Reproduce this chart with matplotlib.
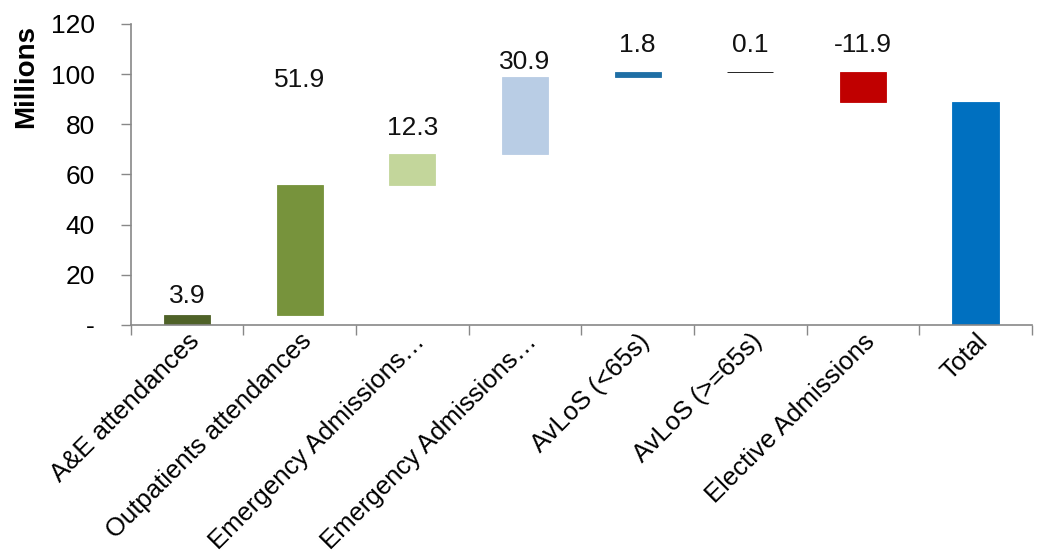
import matplotlib.pyplot as plt
import numpy as np

plt.rcParams['font.family'] = ['Liberation Sans', 'DejaVu Sans']

# Waterfall components (millions)
categories = ["A&E attendances", "Outpatients attendances", "Emergency Admissions\u2026",
              "Emergency Admissions\u2026", "AvLoS (<65s)", "AvLoS (>=65s)",
              "Elective Admissions", "Total"]
changes = [3.9, 51.9, 12.3, 30.9, 1.8, 0.1, -11.9]
bar_colors = ["#4f6228", "#77933c", "#c3d69b", "#b9cde5", "#1f6fa5", "#000000",
              "#c00000", "#0070c0"]
# heights where the value labels sit
label_y = [11.6, 97.7, 78.5, 104.9, 111.6, 111.6, 111.6]

total = round(sum(changes), 1)
ends = np.cumsum(changes)
starts = ends - np.array(changes)
bottoms = list(np.minimum(starts, ends)) + [0]
heights = [abs(c) for c in changes] + [total]

fig = plt.figure(figsize=(10.38, 5.56), dpi=100)
ax = fig.add_axes([0.126, 0.4155, 0.868, 0.5415])

x = np.arange(len(categories))
ax.bar(x, heights, bottom=bottoms, width=0.41, color=bar_colors,
       edgecolor=bar_colors, linewidth=0.6)

for i, c in enumerate(changes):
    ax.text(x[i], label_y[i], f"{c:.1f}", ha='center', va='center', fontsize=19,
            color='#111111')

ax.set_xlim(-0.5, len(categories) - 0.5)
ax.set_ylim(0, 120)
ax.set_yticks([0, 20, 40, 60, 80, 100, 120])
ax.set_yticklabels(['-', '20', '40', '60', '80', '100', '120'], fontsize=19)
ax.set_xticks(x)
ax.set_xticklabels(categories, rotation=45, ha='right', rotation_mode='anchor',
                   fontsize=18.5)
ax.set_xticks(np.arange(len(categories) + 1) - 0.5, minor=True)
ax.tick_params(axis='x', which='major', length=0, pad=3)
ax.tick_params(axis='x', which='minor', length=7, color='#888888', width=1)
ax.tick_params(axis='y', length=7, color='#888888', width=1, pad=19)

for side in ['top', 'right']:
    ax.spines[side].set_visible(False)
for side in ['left', 'bottom']:
    ax.spines[side].set_color('#888888')
    ax.spines[side].set_linewidth(1.2)

# axis title sits up near the top of the scale
ax.set_ylabel("Millions", fontsize=20, fontweight='bold')
ax.yaxis.set_label_coords(-0.102, 0.824)

fig.savefig("out.png", dpi=100)
